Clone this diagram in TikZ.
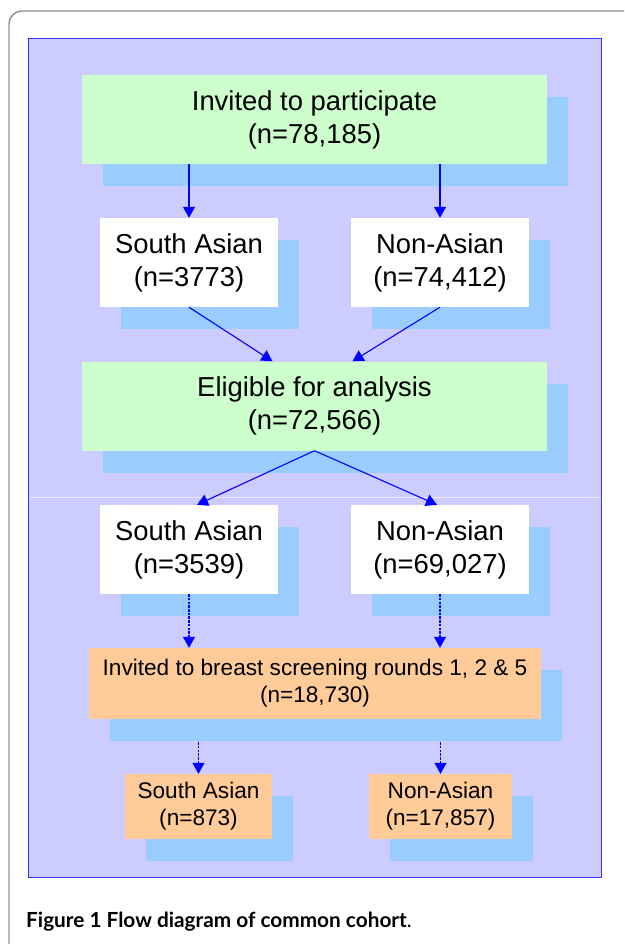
\documentclass[tikz,border=0pt]{standalone}
\usepackage{fontspec}
\setmainfont{Liberation Sans}
\newfontfamily\capfont{Lato}
\usetikzlibrary{arrows.meta,shadows}
\definecolor{panel}{HTML}{CCCCFF}
\definecolor{panelline}{HTML}{3333FF}
\definecolor{boxgreen}{HTML}{CCFFCC}
\definecolor{boxorange}{HTML}{FFCC99}
\definecolor{shadowblue}{HTML}{99CCFF}
\definecolor{arrowblue}{HTML}{0000FF}
\definecolor{framegray}{HTML}{8F8F8F}
\begin{document}
\begin{tikzpicture}[x=1pt,y=-1pt,
  boxbase/.style={inner sep=0pt, align=center,
    drop shadow={shadow xshift=21pt, shadow yshift=-22pt, fill=shadowblue, opacity=1}},
  widebox/.style={boxbase, fill=boxgreen, minimum width=465pt, minimum height=89pt,
    font=\fontsize{27.4}{32.9}\selectfont},
  whitebox/.style={boxbase, fill=white, minimum width=178pt, minimum height=89pt,
    font=\fontsize{27.4}{32.9}\selectfont},
  orangebig/.style={boxbase, fill=boxorange, minimum width=452pt, minimum height=71pt,
    font=\fontsize{22.6}{27}\selectfont},
  orangesmall/.style={boxbase, fill=boxorange, minimum height=65pt,
    font=\fontsize{22.6}{27}\selectfont},
  solidarrow/.style={draw=arrowblue, line width=1.1pt, -{Triangle[length=11pt,width=12pt]}},
  dasharrow/.style={draw=arrowblue, line width=1.1pt, dash pattern=on 2.5pt off 1.2pt,
    -{Triangle[length=11pt,width=12pt]}}
]
\useasboundingbox (0,0) rectangle (624,944);
\fill[white] (0,0) rectangle (624,944);
% outer frame
\draw[framegray, line width=1.4pt, rounded corners=13pt] (9,944) -- (9,11) -- (624,11);
% panel
\fill[panel] (28,39) rectangle (601,877);
\draw[panelline, line width=1pt] (28,39) rectangle (601,877);
\draw[white!55!panel, line width=0.8pt] (28.5,497) -- (600.5,497);

% nodes
\node[widebox] (top) at (314.5,119.5) {Invited to participate\\(n=78,185)};
\node[whitebox] (sa1) at (189,262.5) {South Asian\\(n=3773)};
\node[whitebox] (na1) at (440,262.5) {Non-Asian\\(n=74,412)};
\node[widebox] (elig) at (314.5,406) {Eligible for analysis\\(n=72,566)};
\node[whitebox] (sa2) at (189,549.5) {South Asian\\(n=3539)};
\node[whitebox] (na2) at (440,549.5) {Non-Asian\\(n=69,027)};
\node[orangebig] (big) at (315,683.5) {Invited to breast screening rounds 1, 2 \& 5\\(n=18,730)};
\node[orangesmall, minimum width=147pt] (saf) at (198.5,806.5) {South Asian\\(n=873)};
\node[orangesmall, minimum width=143pt] (naf) at (440.5,806.5) {Non-Asian\\(n=17,857)};

% connectors
\draw[solidarrow] (top.south -| sa1.north) -- (sa1.north);
\draw[solidarrow] (top.south -| na1.north) -- (na1.north);
\draw[solidarrow] (sa1.south) -- ([xshift=-42pt]elig.north);
\draw[solidarrow] (na1.south) -- ([xshift=38pt]elig.north);
\draw[solidarrow] (elig.south) -- ([xshift=8pt]sa2.north);
\draw[solidarrow] (elig.south) -- ([xshift=-3pt]na2.north);
\draw[dasharrow] (sa2.south) -- (big.north -| sa2.south);
\draw[dasharrow] (na2.south) -- (big.north -| na2.south);
\draw[dasharrow] ([yshift=-23pt]big.south -| saf.north) -- (saf.north);
\draw[dasharrow] ([yshift=-23pt]big.south -| naf.north) -- (naf.north);

% caption
\node[anchor=base west, inner sep=0pt, font=\capfont\fontsize{20.8}{25}\selectfont] (cap) at (26,927)
  {\textbf{Figure 1 Flow diagram of common cohort}.};
\end{tikzpicture}
\end{document}
